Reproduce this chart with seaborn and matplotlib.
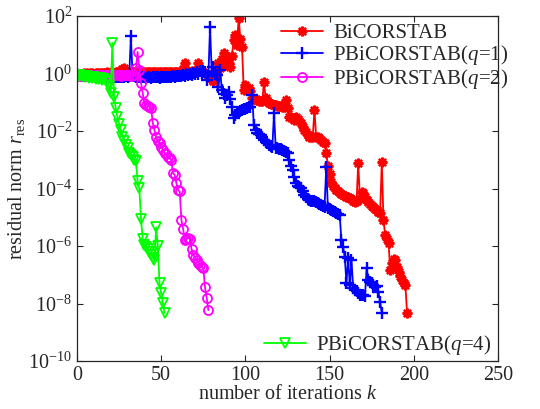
import numpy as np
import pandas as pd
import matplotlib
matplotlib.use('Agg')
import matplotlib.pyplot as plt
import seaborn as sns

# ── data: log10 of residual norm per iteration ──
red_log = [
    -0.05, -0.02, 0.0, -0.01, 0.01, 0.0, 0.02, 0.0, 0.01, 0.02,
    0.0, 0.02, 0.01, 0.03, 0.02, 0.01, 0.03, 0.02, 0.04, 0.03,
    0.04, 0.02, 0.03, 0.05, 0.04, 0.06, 0.05, 0.15, 0.19, 0.06,
    0.05, 0.04, 0.06, 0.05, 0.04, 0.05, 0.06, 0.05, 0.04, 0.06,
    0.05, 0.04, 0.05, 0.06, 0.05, 0.04, 0.05, 0.06, 0.05, 0.04,
    0.05, 0.06, 0.05, 0.04, 0.05, 0.06, 0.05, 0.04, 0.05, 0.06,
    0.05, 0.04, 0.06, 0.15, 0.36, 0.1, 0.06, 0.05, 0.07, 0.06,
    0.08, 0.12, 0.36, 0.1, 0.06, 0.05, 0.03, 0.0, -0.1, -0.15,
    -0.2, -0.25, -0.1, 0.0, 0.36, 0.2, 0.5, 0.71, 0.3, 0.47,
    0.35, 0.23, 0.6, 1.17, 1.34, 1.0, 1.93, 1.2, 0.92, -0.57,
    -0.4, -0.57, -0.5, -0.6, -0.85, -0.88, -0.9, -0.92, -0.95, -0.95,
    -0.97, -0.3, -0.85, -0.95, -1.03, -1.05, -1.07, -1.08, -1.1, -1.12,
    -1.13, -1.14, -1.15, -1.17, -0.92, -1.2, -1.51, -1.5, -1.55, -1.6,
    -1.5, -1.58, -1.65, -1.73, -1.86, -1.95, -2.05, -2.15, -2.2, -2.22,
    -2.2, -1.27, -2.2, -2.22, -2.25, -2.3, -2.38, -2.43, -2.77, -3.2,
    -3.5, -3.78, -3.9, -3.98, -4.05, -4.1, -4.16, -4.2, -4.22, -4.25,
    -4.28, -4.3, -4.33, -4.38, -4.42, -4.47, -4.45, -3.11, -4.35, -4.12,
    -4.16, -4.3, -4.4, -4.47, -4.55, -4.6, -4.64, -4.7, -4.75, -4.82,
    -4.85, -3.08, -5.1, -5.62, -5.75, -5.9, -6.83, -6.6, -6.45, -6.49,
    -6.73, -6.9, -7.05, -7.18, -7.3, -7.36, -8.33,
]

blue_log = [
    -0.02, -0.05, -0.04, -0.07, -0.06, -0.08, -0.07, -0.09, -0.08, -0.1,
    -0.09, -0.1, -0.11, -0.1, -0.12, -0.11, -0.12, -0.13, -0.12, -0.13,
    -0.12, -0.14, -0.13, -0.12, -0.13, -0.12, -0.11, -0.12, -0.11, -0.1,
    -0.11, -0.1, 1.3, -0.05, -0.1, -0.12, -0.11, -0.13, -0.12, -0.13,
    -0.12, -0.14, -0.13, -0.12, -0.14, -0.13, -0.12, -0.13, -0.12, -0.14,
    -0.13, -0.12, -0.13, -0.11, -0.12, -0.11, -0.12, -0.1, -0.11, -0.1,
    -0.09, -0.08, -0.1, -0.05, -0.08, -0.03, -0.06, -0.02, -0.05, 0.02,
    -0.03, 0.05, 0.0, 0.08, 0.03, 0.1, 0.05, -0.23, -0.1, 1.62,
    0.05, 0.23, 0.0, -0.05, -0.47, 0.12, -0.57, -0.7, -0.85, -0.75,
    -0.64, -0.9, -1.17, -1.55, -1.45, -1.37, -1.33, -1.3, -1.27, -1.25,
    -1.22, -1.2, -1.18, -1.17, -0.75, -1.79, -1.97, -2.07, -2.1, -2.15,
    -2.2, -2.3, -2.38, -2.42, -2.49, -2.52, -2.56, -1.37, -2.59, -2.6,
    -2.62, -2.64, -2.66, -2.7, -2.74, -2.77, -3.0, -3.2, -3.36, -3.6,
    -3.81, -3.9, -3.95, -3.98, -4.1, -4.23, -4.3, -4.35, -4.4, -4.42,
    -4.43, -4.45, -4.47, -4.5, -4.53, -4.56, -4.6, -4.64, -3.25, -4.68,
    -4.7, -4.74, -4.78, -4.82, -4.86, -4.89, -4.92, -5.79, -6.03, -6.38,
    -7.29, -6.42, -7.36, -6.5, -7.45, -7.53, -7.58, -7.63, -7.7, -7.72,
    -7.72, -7.75, -6.77, -7.18, -7.25, -7.3, -7.35, -7.43, -7.4, -7.6,
    -7.95, -8.33,
]

magenta_log = [
    -0.1, -0.05, -0.08, -0.04, -0.07, -0.05, -0.08, -0.04, -0.06, -0.05,
    -0.07, -0.04, -0.06, -0.05, -0.07, -0.05, -0.06, -0.04, -0.06, -0.05,
    -0.07, -0.05, -0.06, -0.04, -0.06, -0.05, -0.07, -0.05, -0.06, -0.04,
    -0.06, -0.05, -0.07, -0.05, -0.06, 0.2, 0.75, 0.12, -0.33, -0.68,
    -1.03, -1.08, -1.12, -1.16, -1.2, -1.72, -1.97, -2.21, -2.35, -2.42,
    -2.55, -2.66, -2.77, -2.8, -2.9, -2.95, -3.0, -3.46, -3.53, -3.81,
    -4.05, -4.1, -5.1, -5.4, -5.79, -5.75, -5.72, -5.75, -6.1, -6.3,
    -6.4, -6.49, -6.58, -6.66, -6.72, -6.77, -7.43, -7.8, -8.23,
]

green_log = [
    -0.05, -0.08, -0.04, -0.1, -0.07, -0.12, -0.1, -0.14, -0.11, -0.16,
    -0.13, -0.18, -0.15, -0.2, -0.17, -0.22, -0.2, -0.25, -0.3, -0.45,
    -0.68, 1.06, -0.82, -1.2, -1.5, -1.75, -1.95, -2.2, -2.35, -2.5,
    -2.6, -2.75, -2.85, -2.9, -3.0, -3.05, -3.75, -3.98, -5.05, -5.75,
    -5.95, -6.05, -6.1, -6.2, -6.3, -6.4, -6.5, -5.35, -6.0, -7.3,
    -7.65, -7.98, -8.33,
]

labels = ['BiCORSTAB', 'PBiCORSTAB($q$=1)', 'PBiCORSTAB($q$=2)', 'PBiCORSTAB($q$=4)']
series = [red_log, blue_log, magenta_log, green_log]
colors = ['#FF0000', '#0000FF', '#FF00FF', '#00FF00']
markers = [(8, 2, 0), '+', 'o', 'v']
msizes = [7, 8, 6.5, 7]

sns.set_style('ticks')
plt.rcParams['font.family'] = ['Liberation Serif', 'DejaVu Serif']
plt.rcParams['mathtext.fontset'] = 'custom'
plt.rcParams['mathtext.rm'] = 'Liberation Serif'
plt.rcParams['mathtext.it'] = 'Liberation Serif:italic'

fig = plt.figure(figsize=(5.4, 4.09), dpi=100)
ax = fig.add_axes([77 / 540, 48 / 409, 421 / 540, 345 / 409])

handles = []
for vals, lab, c, m, ms in zip(series, labels, colors, markers, msizes):
    df = pd.DataFrame({'k': np.arange(len(vals)), 'r': np.power(10.0, vals)})
    hollow = m in ('o', 'v')
    sns.lineplot(data=df, x='k', y='r', ax=ax, color=c, marker=m, markersize=ms,
                 markerfacecolor='none' if hollow else c,
                 markeredgecolor=c, markeredgewidth=1.3 if hollow else 1.7,
                 linewidth=1.3, estimator=None, sort=False, label=lab, legend=False)
    handles.append(ax.lines[-1])

ax.set_yscale('log')
ax.set_xlim(0, 250)
ax.set_ylim(1e-10, 1e2)
ax.set_xticks([0, 50, 100, 150, 200, 250])
ax.set_yticks([10.0 ** e for e in range(-10, 3, 2)])
ax.yaxis.set_minor_locator(matplotlib.ticker.NullLocator())
ax.tick_params(direction='in', top=True, right=True, labelsize=14.5, length=4)
for s in ax.spines.values():
    s.set_linewidth(0.9)
    s.set_visible(True)

ax.set_xlabel('number of iterations $k$', fontsize=14.5, labelpad=0)
ax.set_ylabel(r'residual norm $r_{\mathrm{res}}$', fontsize=14.5, labelpad=1)

leg1 = ax.legend(handles[:3], labels[:3], loc='upper left', bbox_to_anchor=(0.455, 1.015),
                 frameon=False, fontsize=15, handlelength=2.0, labelspacing=0.0,
                 handletextpad=0.5, borderaxespad=0.2)
ax.add_artist(leg1)
ax.legend(handles[3:], labels[3:], loc='lower left', bbox_to_anchor=(0.415, -0.025),
          frameon=False, fontsize=15, handlelength=2.0, handletextpad=0.5, borderaxespad=0.2)

fig.savefig('out.png', dpi=100)
